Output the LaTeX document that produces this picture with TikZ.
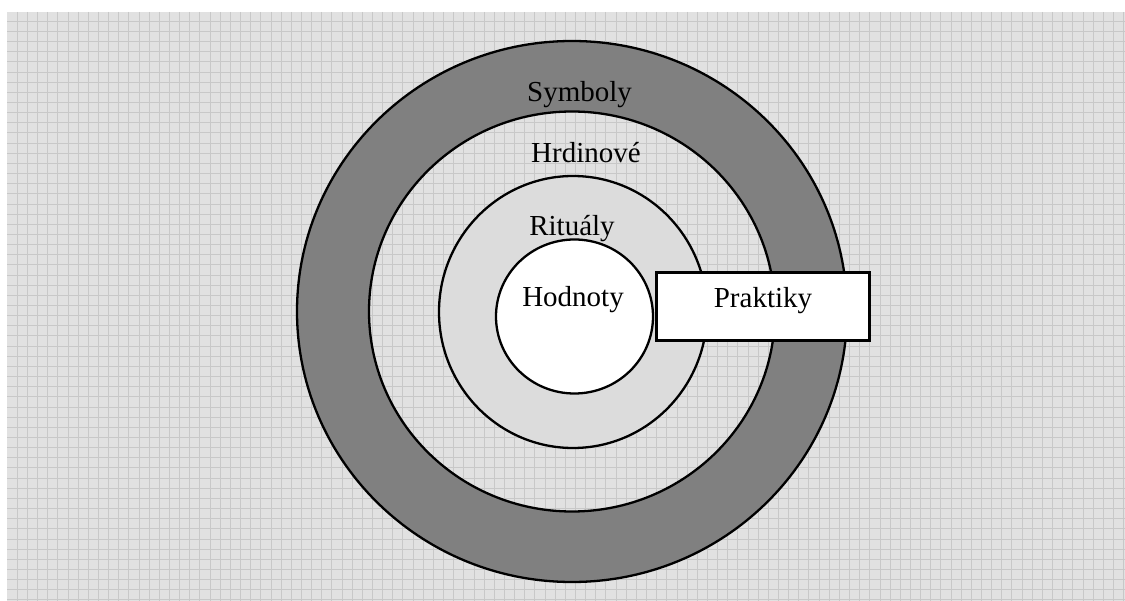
\documentclass[tikz,border=0pt]{standalone}
\usepackage{fontspec}
\setmainfont{Liberation Serif}
\definecolor{bgc}{HTML}{E1E1E1}
\definecolor{gridc}{HTML}{C8C8C8}
\definecolor{ringc}{HTML}{808080}
\definecolor{ritc}{HTML}{DCDCDC}
\begin{document}
\begin{tikzpicture}[x=1pt,y=-1pt,
  ln/.style={line width=2.3pt,draw=black},
  lbl/.style={anchor=base,font=\fontsize{29}{30}\selectfont,inner sep=0pt}]
\useasboundingbox (0,0) rectangle (1125,601);
\fill[white] (0,0) rectangle (1125,601);
\fill[bgc] (7,12) rectangle (1125,601);
\foreach \i in {0,...,109} {\draw[gridc,line width=0.9pt] ({17.2+10.15*\i},12) -- ({17.2+10.15*\i},601);}
\foreach \j in {0,...,57} {\draw[gridc,line width=0.9pt] (7,{21.3+10.15*\j}) -- (1125,{21.3+10.15*\j});}
% rings
\fill[ringc,even odd rule] (572,311.5) ellipse [x radius=275pt,y radius=270.5pt]
  (572,311.5) ellipse [x radius=203pt,y radius=200pt];
\draw[ln] (572,311.5) ellipse [x radius=275pt,y radius=270.5pt];
\draw[ln] (572,311.5) ellipse [x radius=203pt,y radius=200pt];
\filldraw[ln,fill=ritc] (573,312) ellipse [x radius=134pt,y radius=136pt];
\filldraw[ln,fill=white] (574.5,316.5) ellipse [x radius=78.5pt,y radius=77pt];
\node[draw,line width=2.6pt,fill=white,minimum width=213pt,minimum height=68pt,inner sep=0pt] (praktikybox) at (763,306.5) {};
\node[lbl] (symboly) at (579.5,101.5) {Symboly};
\node[lbl] (hrdinove) at (586,162.5) {Hrdinové};
\node[lbl] (ritualy) at (572,235.5) {Rituály};
\node[lbl] (hodnoty) at (573,307) {Hodnoty};
\node[lbl] (praktiky) at (763,308) {Praktiky};
\end{tikzpicture}
\end{document}
